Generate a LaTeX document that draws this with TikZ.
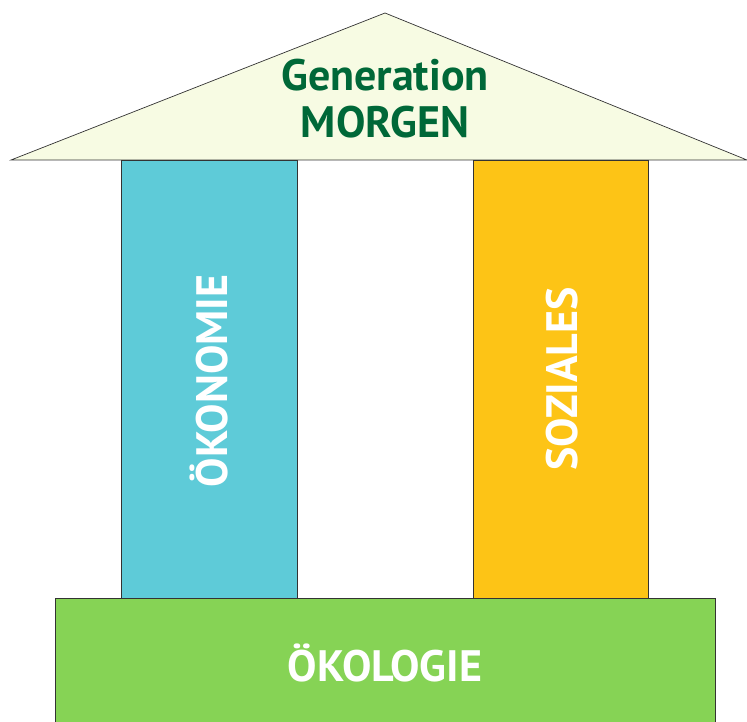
\documentclass[tikz,border=0pt]{standalone}
\usepackage{fontspec}
\setmainfont{PT Sans}
\definecolor{roofcol}{HTML}{F7FBE3}
\definecolor{textgreen}{HTML}{006838}
\definecolor{cyancol}{HTML}{5ECBD8}
\definecolor{yellowcol}{HTML}{FDC416}
\definecolor{basecol}{HTML}{86D355}
\begin{document}
\begin{tikzpicture}
		[x=1pt, y=-1pt,
		part/.style={draw=black!80, line width=0.7pt},
		pillartext/.style={text=white, font=\bfseries\fontsize{44}{44}\selectfont, rotate=90},
		title/.style={text=textgreen, font=\bfseries\fontsize{44}{47}\selectfont, align=center}]
		\useasboundingbox (0,0) rectangle (747,722);
		% pillars
		\draw[part, fill=cyancol] (121,160) rectangle (297,598);
		\draw[part, fill=yellowcol] (473,160) rectangle (648,598);
		% base
		\draw[part, fill=basecol] (55,598) rectangle (715,730);
		% roof
		\draw[part, fill=roofcol] (11,160) -- (385,13) -- (747,160) -- cycle;

		\node[title] (gen) at (385,99) {Generation\\MORGEN};
		\node[pillartext] (oek) at (209,381) {ÖKONOMIE};
		\node[pillartext] (soz) at (562,379) {SOZIALES};
		\node[text=white, font=\bfseries\fontsize{44}{44}\selectfont] (oeko) at (385,663) {ÖKOLOGIE};
	\end{tikzpicture}
\end{document}
